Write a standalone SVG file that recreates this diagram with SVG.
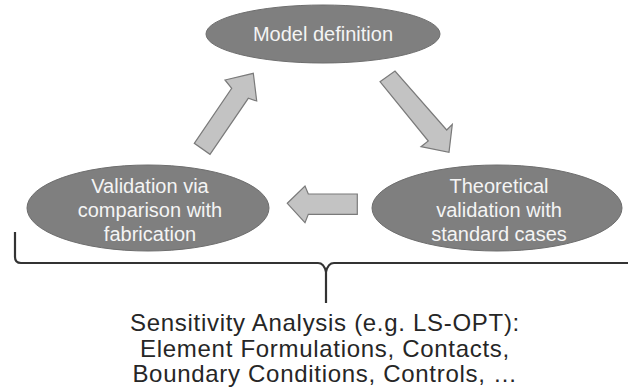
<svg xmlns="http://www.w3.org/2000/svg" width="628" height="387" viewBox="0 0 628 387">
<style>
.node ellipse{fill:#7f7f7f;stroke:#6e6e6e;stroke-width:1}
.node text{font-family:"Liberation Sans",Arial,sans-serif;font-size:20px;fill:#f4f4f4;text-anchor:middle}
.arrow{fill:#c3c3c3;stroke:#7a7a7a;stroke-width:1.2;stroke-linejoin:miter}
.brace{fill:none;stroke:#333;stroke-width:2.2}
.label{font-family:"Liberation Sans",Arial,sans-serif;font-size:24px;letter-spacing:0.7px;fill:#262626;text-anchor:middle}
</style>
<rect width="628" height="387" fill="#fff"/>
<g id="connectors">
<polygon class="arrow" points="194.3,143.3 231.7,88.3 225,80 253.3,73.3 256.7,101 248.3,98.3 210,154.3"/>
<polygon class="arrow" points="380,81.7 395,71 446.7,130 452.3,124.3 449,152.3 421,146.7 428.3,141"/>
<polygon class="arrow" points="287.3,203.3 305,186 308.3,194 357.3,194 357.3,214.3 308.3,214.3 305,222.7"/>
</g>
<g id="model" class="node">
<ellipse cx="323" cy="34" rx="117" ry="29"/>
<text x="323" y="41">Model definition</text>
</g>
<g id="validation" class="node">
<ellipse cx="148" cy="208" rx="121" ry="43"/>
<text x="150" y="193">Validation via</text>
<text x="150" y="217">comparison with</text>
<text x="150" y="241">fabrication</text>
</g>
<g id="theoretical" class="node">
<ellipse cx="497" cy="208" rx="125" ry="43"/>
<text x="499" y="193">Theoretical</text>
<text x="499" y="217">validation with</text>
<text x="499" y="241">standard cases</text>
</g>
<g id="sensitivity">
<path class="brace" d="M15,232 V257 Q15,263 21,263 H318 Q324,263 326,272 V303 M326,272 Q328,263 334,263 H630"/>
<text class="label" x="325" y="331">Sensitivity Analysis (e.g. LS-OPT):</text>
<text class="label" x="325" y="357">Element Formulations, Contacts,</text>
<text class="label" x="325" y="382">Boundary Conditions, Controls, …</text>
</g>
</svg>
